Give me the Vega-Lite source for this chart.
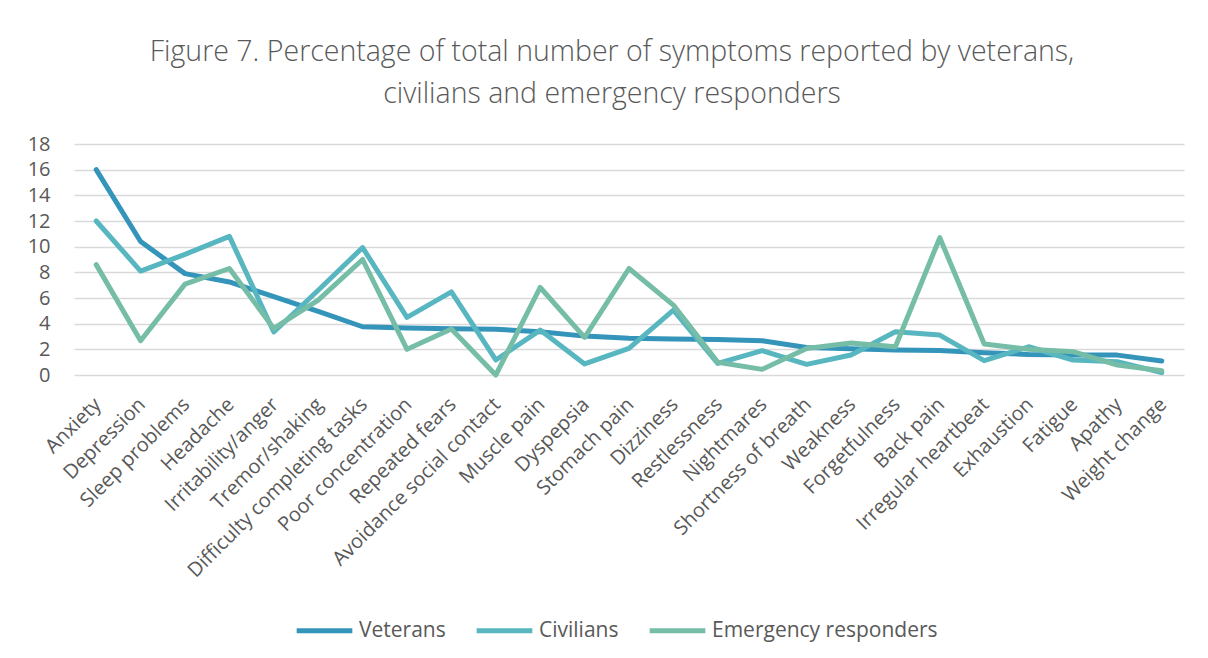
{
  "$schema": "https://vega.github.io/schema/vega-lite/v6.json",
  "autosize": {"type": "none"},
  "width": 1110,
  "height": 231,
  "padding": {"left": 74, "top": 144, "right": 24, "bottom": 283},
  "background": "white",
  "title": {
    "text": ["Figure 7. Percentage of total number of symptoms reported by veterans,", "civilians and emergency responders"],
    "anchor": "middle",
    "frame": "group",
    "dx": -17,
    "offset": 26,
    "font": "Open Sans",
    "fontWeight": 300,
    "fontSize": 28.5,
    "lineHeight": 42,
    "color": "#595959"
  },
  "data": {
    "values": [
      {"symptom": "Anxiety", "group": "Veterans", "pct": 16.0},
      {"symptom": "Depression", "group": "Veterans", "pct": 10.4},
      {"symptom": "Sleep problems", "group": "Veterans", "pct": 7.9},
      {"symptom": "Headache", "group": "Veterans", "pct": 7.25},
      {"symptom": "Irritability/anger", "group": "Veterans", "pct": 6.1},
      {"symptom": "Tremor/shaking", "group": "Veterans", "pct": 4.95},
      {"symptom": "Difficulty completing tasks", "group": "Veterans", "pct": 3.76},
      {"symptom": "Poor concentration", "group": "Veterans", "pct": 3.66},
      {"symptom": "Repeated fears", "group": "Veterans", "pct": 3.6},
      {"symptom": "Avoidance social contact", "group": "Veterans", "pct": 3.56},
      {"symptom": "Muscle pain", "group": "Veterans", "pct": 3.37},
      {"symptom": "Dyspepsia", "group": "Veterans", "pct": 3.03},
      {"symptom": "Stomach pain", "group": "Veterans", "pct": 2.86},
      {"symptom": "Dizziness", "group": "Veterans", "pct": 2.8},
      {"symptom": "Restlessness", "group": "Veterans", "pct": 2.77},
      {"symptom": "Nightmares", "group": "Veterans", "pct": 2.67},
      {"symptom": "Shortness of breath", "group": "Veterans", "pct": 2.15},
      {"symptom": "Weakness", "group": "Veterans", "pct": 2.05},
      {"symptom": "Forgetfulness", "group": "Veterans", "pct": 1.95},
      {"symptom": "Back pain", "group": "Veterans", "pct": 1.9},
      {"symptom": "Irregular heartbeat", "group": "Veterans", "pct": 1.74},
      {"symptom": "Exhaustion", "group": "Veterans", "pct": 1.6},
      {"symptom": "Fatigue", "group": "Veterans", "pct": 1.55},
      {"symptom": "Apathy", "group": "Veterans", "pct": 1.55},
      {"symptom": "Weight change", "group": "Veterans", "pct": 1.09},
      {"symptom": "Anxiety", "group": "Civilians", "pct": 12.0},
      {"symptom": "Depression", "group": "Civilians", "pct": 8.1},
      {"symptom": "Sleep problems", "group": "Civilians", "pct": 9.4},
      {"symptom": "Headache", "group": "Civilians", "pct": 10.8},
      {"symptom": "Irritability/anger", "group": "Civilians", "pct": 3.35},
      {"symptom": "Tremor/shaking", "group": "Civilians", "pct": 6.6},
      {"symptom": "Difficulty completing tasks", "group": "Civilians", "pct": 9.93},
      {"symptom": "Poor concentration", "group": "Civilians", "pct": 4.49},
      {"symptom": "Repeated fears", "group": "Civilians", "pct": 6.48},
      {"symptom": "Avoidance social contact", "group": "Civilians", "pct": 1.17},
      {"symptom": "Muscle pain", "group": "Civilians", "pct": 3.5},
      {"symptom": "Dyspepsia", "group": "Civilians", "pct": 0.86},
      {"symptom": "Stomach pain", "group": "Civilians", "pct": 2.07},
      {"symptom": "Dizziness", "group": "Civilians", "pct": 5.06},
      {"symptom": "Restlessness", "group": "Civilians", "pct": 0.9},
      {"symptom": "Nightmares", "group": "Civilians", "pct": 1.9},
      {"symptom": "Shortness of breath", "group": "Civilians", "pct": 0.83},
      {"symptom": "Weakness", "group": "Civilians", "pct": 1.56},
      {"symptom": "Forgetfulness", "group": "Civilians", "pct": 3.37},
      {"symptom": "Back pain", "group": "Civilians", "pct": 3.11},
      {"symptom": "Irregular heartbeat", "group": "Civilians", "pct": 1.12},
      {"symptom": "Exhaustion", "group": "Civilians", "pct": 2.2},
      {"symptom": "Fatigue", "group": "Civilians", "pct": 1.17},
      {"symptom": "Apathy", "group": "Civilians", "pct": 1.04},
      {"symptom": "Weight change", "group": "Civilians", "pct": 0.18},
      {"symptom": "Anxiety", "group": "Emergency responders", "pct": 8.6},
      {"symptom": "Depression", "group": "Emergency responders", "pct": 2.67},
      {"symptom": "Sleep problems", "group": "Emergency responders", "pct": 7.08},
      {"symptom": "Headache", "group": "Emergency responders", "pct": 8.3},
      {"symptom": "Irritability/anger", "group": "Emergency responders", "pct": 3.63},
      {"symptom": "Tremor/shaking", "group": "Emergency responders", "pct": 5.84},
      {"symptom": "Difficulty completing tasks", "group": "Emergency responders", "pct": 9.0},
      {"symptom": "Poor concentration", "group": "Emergency responders", "pct": 2.0},
      {"symptom": "Repeated fears", "group": "Emergency responders", "pct": 3.58},
      {"symptom": "Avoidance social contact", "group": "Emergency responders", "pct": 0.0},
      {"symptom": "Muscle pain", "group": "Emergency responders", "pct": 6.82},
      {"symptom": "Dyspepsia", "group": "Emergency responders", "pct": 2.93},
      {"symptom": "Stomach pain", "group": "Emergency responders", "pct": 8.3},
      {"symptom": "Dizziness", "group": "Emergency responders", "pct": 5.45},
      {"symptom": "Restlessness", "group": "Emergency responders", "pct": 0.99},
      {"symptom": "Nightmares", "group": "Emergency responders", "pct": 0.44},
      {"symptom": "Shortness of breath", "group": "Emergency responders", "pct": 2.07},
      {"symptom": "Weakness", "group": "Emergency responders", "pct": 2.5},
      {"symptom": "Forgetfulness", "group": "Emergency responders", "pct": 2.2},
      {"symptom": "Back pain", "group": "Emergency responders", "pct": 10.7},
      {"symptom": "Irregular heartbeat", "group": "Emergency responders", "pct": 2.41},
      {"symptom": "Exhaustion", "group": "Emergency responders", "pct": 2.0},
      {"symptom": "Fatigue", "group": "Emergency responders", "pct": 1.82},
      {"symptom": "Apathy", "group": "Emergency responders", "pct": 0.78},
      {"symptom": "Weight change", "group": "Emergency responders", "pct": 0.33}
    ]
  },
  "mark": {"type": "line", "strokeWidth": 5, "strokeCap": "round", "strokeJoin": "round"},
  "encoding": {
    "x": {
      "field": "symptom",
      "type": "nominal",
      "sort": null,
      "title": null,
      "axis": {
        "labelAngle": -45,
        "ticks": false,
        "domain": false,
        "grid": false,
        "labelPadding": 19,
        "labelOffset": -6,
        "labelLimit": 0,
        "labelFont": "Open Sans",
        "labelFontSize": 20,
        "labelColor": "#595959"
      }
    },
    "y": {
      "field": "pct",
      "type": "quantitative",
      "title": null,
      "scale": {"domain": [0, 18], "nice": false},
      "axis": {
        "values": [0, 2, 4, 6, 8, 10, 12, 14, 16, 18],
        "ticks": false,
        "domain": false,
        "grid": true,
        "gridColor": "#D9D9D9",
        "gridWidth": 1.5,
        "labelPadding": 24,
        "labelFont": "Open Sans",
        "labelFontSize": 20,
        "labelColor": "#595959"
      }
    },
    "color": {
      "field": "group",
      "type": "nominal",
      "sort": ["Veterans", "Civilians", "Emergency responders"],
      "scale": {"domain": ["Veterans", "Civilians", "Emergency responders"], "range": ["#3494BA", "#58B6C0", "#75BDA7"]},
      "legend": {
        "title": null,
        "orient": "none",
        "direction": "horizontal",
        "legendX": 220,
        "legendY": 456,
        "symbolType": "stroke",
        "symbolSize": 3100,
        "symbolStrokeWidth": 5,
        "labelFont": "Open Sans",
        "labelFontSize": 21,
        "labelColor": "#595959",
        "labelLimit": 0,
        "labelOffset": 4,
        "columnPadding": 20
      }
    }
  },
  "config": {"view": {"stroke": null}}
}
